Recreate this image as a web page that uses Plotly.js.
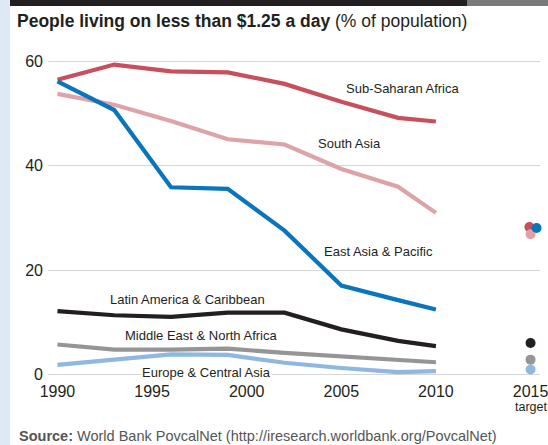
<!DOCTYPE html>
<html>
<head>
<meta charset="utf-8">
<script src="https://cdn.plot.ly/plotly-3.0.1.min.js"></script>
<style>
  html, body { margin:0; padding:0; background:#fff; }
  #wrap { position:relative; width:548px; height:445px; overflow:hidden; }
  #chart { position:absolute; left:0; top:0; width:548px; height:445px; }
  .deco { position:absolute; pointer-events:none; z-index:5; }
</style>
</head>
<body>
<div id="wrap">
  <div id="chart"></div>
  <div class="deco" style="left:0;top:0;width:10px;height:445px;background:#dfe9f5;"></div>
  <div class="deco" style="left:10px;top:0;width:457px;height:6px;background:#231f20;"></div>
  <div class="deco" style="left:467px;top:0;width:81px;height:6px;background:#7a7a7a;"></div>
</div>
<script>
// ---- data ----
const years = [1990, 1993, 1996, 1999, 2002, 2005, 2008, 2010];
const targetYear = 2015;
const regions = ["Sub-Saharan Africa", "South Asia", "Middle East & North Africa", "Europe & Central Asia", "East Asia & Pacific", "Latin America & Caribbean"];
const subSaharanAfrica = [56.5, 59.4, 58.1, 57.9, 55.7, 52.3, 49.2, 48.5];
const southAsia        = [53.8, 51.7, 48.6, 45.1, 44.1, 39.4, 36.0, 31.0];
const eastAsiaPacific  = [56.2, 50.7, 35.9, 35.6, 27.6, 17.1, 14.3, 12.5];
const latinAmerica     = [12.2, 11.4, 11.1, 11.9, 11.9, 8.7, 6.5, 5.5];
const middleEastNA     = [5.8, 4.8, 4.8, 5.0, 4.2, 3.5, 2.7, 2.4];
const europeCentralAsia= [1.9, 2.9, 3.9, 3.8, 2.3, 1.3, 0.5, 0.7];
const targets2015 = {ssa: 28.3, sa: 26.9, eap: 28.1, lac: 6.1, mena: 2.9, eca: 1.0};
const xTickVals = [1990, 1995, 2000, 2005, 2010, 2015];
const xTickText = ["1990", "1995", "2000", "2005", "2010", "2015"];
const targetLabel = "target";
const yTickVals = [0, 20, 40, 60];

// ---- styles ----
const FONT = "Liberation Sans Narrow, Arial Narrow, sans-serif";
const styles = {
  ssa:  {color:"#c8505e", dx:-0.06},
  sa:   {color:"#dea3a8", dx:0.0},
  mena: {color:"#959595", dx:0.0},
  eca:  {color:"#8fb7e1", dx:0.0},
  eap:  {color:"#0a74bc", dx:0.32},
  lac:  {color:"#231f20", dx:0.0}
};
const series = [
  ["ssa", subSaharanAfrica, regions[0]],
  ["sa", southAsia, regions[1]],
  ["mena", middleEastNA, regions[2]],
  ["eca", europeCentralAsia, regions[3]],
  ["eap", eastAsiaPacific, regions[4]],
  ["lac", latinAmerica, regions[5]]
];

const traces = [];
series.forEach(([k, vals, name]) => {
  traces.push({x: years, y: vals, name: name, type:"scatter", mode:"lines",
    line:{color: styles[k].color, width:4.2}, hoverinfo:"skip"});
});
["ssa","sa","eap","lac","mena","eca"].forEach(k => {
  traces.push({x:[targetYear + styles[k].dx], y:[targets2015[k]], type:"scatter", mode:"markers",
    marker:{color: styles[k].color, size:10}, cliponaxis:false, hoverinfo:"skip"});
});

const lblFont = {family: FONT, size: 13, color:"#231f20"};
const annotations = [
  {x:2008.26, y:54.8, text:"Sub-Saharan Africa"},
  {x:2005.41, y:44.3, text:"South Asia"},
  {x:2006.99, y:23.7, text:"East Asia &amp; Pacific"},
  {x:1996.85, y:14.5, text:"Latin America &amp; Caribbean"},
  {x:1997.59, y:7.45, text:"Middle East &amp; North Africa"},
  {x:1997.9, y:0.38, text:"Europe &amp; Central Asia", bgcolor:"#ffffff"}
].map(a => Object.assign({xref:"x", yref:"y", showarrow:false, font:lblFont, xanchor:"center", yanchor:"middle", borderpad:0}, a));

const plotW = 548 - 48 - 8, plotH = 445 - 50.5 - 64.8;
const px2x = p => (p - 48) / plotW;
const py2y = p => (445 - 64.8 - p) / plotH;

annotations.push({xref:"paper", yref:"paper", x:px2x(15), y:py2y(20), xanchor:"left", yanchor:"middle",
  showarrow:false, align:"left",
  text:"<b>People living on less than $1.25 a day</b> (% of population)",
  font:{family:FONT, size:17.5, color:"#231f20"}});
annotations.push({xref:"paper", yref:"paper", x:px2x(17), y:py2y(436), xanchor:"left", yanchor:"middle",
  showarrow:false, align:"left",
  text:"<b>Source:</b> World Bank PovcalNet (http://iresearch.worldbank.org/PovcalNet)",
  font:{family:FONT, size:14.5, color:"#555"}});
annotations.push({xref:"x", yref:"paper", x:targetYear, y:py2y(407), xanchor:"center", yanchor:"middle",
  showarrow:false, text:targetLabel, font:{family:FONT, size:12.5, color:"#231f20"}});

const layout = {
  width:548, height:445,
  margin:{l:48, r:8, t:50.5, b:64.8},
  paper_bgcolor:"#fff", plot_bgcolor:"#fff",
  showlegend:false,
  font:{family:FONT, size:16, color:"#231f20"},
  xaxis:{range:[1989.5, 2015.5], tickvals:xTickVals, ticktext:xTickText, showgrid:false,
    zeroline:false, showline:false, ticks:"", ticklabeloverflow:"allow",
    tickfont:{family:FONT, size:16, color:"#231f20"}, fixedrange:true},
  yaxis:{range:[-1, 62], tickvals:yTickVals, showgrid:true, gridcolor:"#d6d6d6", gridwidth:1.2,
    zeroline:false, showline:false, ticks:"", ticklabelstandoff:4, tickfont:{family:FONT, size:16, color:"#231f20"}, fixedrange:true},
  annotations: annotations
};

Plotly.newPlot("chart", traces, layout, {displayModeBar:false, staticPlot:true});
</script>
</body>
</html>
